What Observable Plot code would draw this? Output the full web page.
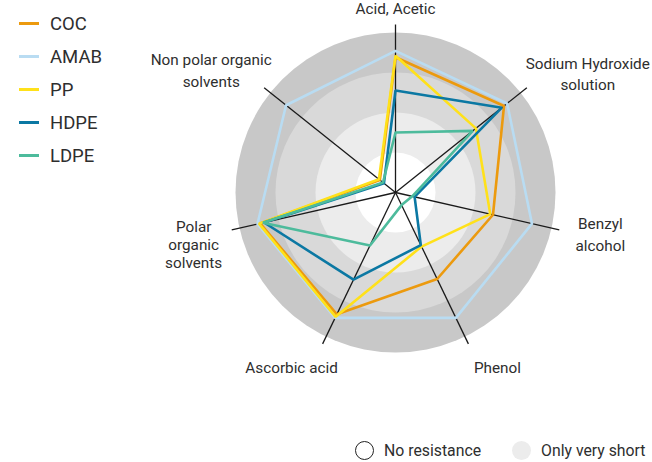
<!DOCTYPE html>
<html>
<head>
<meta charset="utf-8">
<script src="https://cdn.jsdelivr.net/npm/d3@7"></script>
<script src="https://cdn.jsdelivr.net/npm/@observablehq/plot@0.6"></script>
<style>
  html, body { margin: 0; padding: 0; background: #fff; }
  #wrap { position: relative; width: 652px; height: 462px; overflow: hidden; font-family: Roboto, sans-serif; color: #2e2e2e; }
  #chart { position: absolute; left: 0; top: 0; }
  #legend { position: absolute; left: 19px; top: 7px; }
  .li { display: flex; align-items: center; height: 33px; font-size: 18.5px; }
  .sw { width: 20px; height: 3px; margin-right: 11px; }
  #legend2 { position: absolute; top: 441px; left: 355px; display: flex; align-items: center; font-size: 15.8px; }
  .circ { width: 19px; height: 19px; border-radius: 50%; box-sizing: border-box; margin-right: 10px; }
</style>
</head>
<body>
<div id="wrap">
  <div id="chart"></div>
  <div id="legend"></div>
  <div id="legend2"></div>
</div>
<script>
// ---- data ----
const axisLabels = ["Acid, Acetic", "Sodium Hydroxide\nsolution", "Benzyl\nalcohol", "Phenol", "Ascorbic acid", "Polar\norganic\nsolvents", "Non polar organic\nsolvents"];
const seriesNames = ["COC", "AMAB", "PP", "HDPE", "LDPE"];
const seriesColors = ["#ec9a0e", "#b9dcf2", "#ffe11a", "#0b78a3", "#4dbb9c"];
// values per axis, order as axisLabels
const COC  = [3.38, 3.47, 2.50, 2.40, 3.38, 3.47, 0.50];
const AMAB = [3.54, 3.57, 3.50, 3.48, 3.48, 3.54, 3.50];
const PP   = [3.42, 2.57, 2.43, 1.50, 3.45, 3.50, 0.53];
const HDPE = [2.55, 3.40, 0.49, 1.46, 2.42, 3.37, 0.37];
const LDPE = [1.50, 2.47, 0.43, 0.35, 1.47, 3.40, 0.40];
const ringLevels = [4, 3, 2, 1];
const ringColors = ["#c8c8c8", "#d9d9d9", "#ececec", "#ffffff"];
const legendBottom = ["No resistance", "Only very short"];

const seriesValues = {COC, AMAB, PP, HDPE, LDPE};
const drawOrder = ["AMAB", "COC", "PP", "HDPE", "LDPE"];

// ---- geometry helpers (data space, 1 unit = ring step) ----
const n = axisLabels.length;
const ang = i => i * 2 * Math.PI / n;
const axisMax = 4.2;
const labelR = 5.125;
// label nudges (px) and line heights
const labelStyle = [
  {dx: 0, dy: 19.5, lh: 1.35},
  {dx: 32, dy: 8, lh: 1.4},
  {dx: 5, dy: -5, lh: 1.4},
  {dx: 13, dy: -11, lh: 1.35},
  {dx: -15, dy: -11, lh: 1.35},
  {dx: -2, dy: 6, lh: 1.2},
  {dx: -24, dy: 4, lh: 1.45}
];

const W = 652, H = 462, cx = 395, cy = 192, unit = 40;

const marks = [];
ringLevels.forEach((lv, k) => {
  marks.push(Plot.dot([lv], {x: () => 0, y: () => 0, r: d => d, fill: ringColors[k], stroke: "none"}));
});
const axisData = axisLabels.map((l, i) => ({i, x2: axisMax * Math.sin(ang(i)), y2: axisMax * Math.cos(ang(i))}));
marks.push(Plot.link(axisData, {x1: () => 0, y1: () => 0, x2: "x2", y2: "y2", stroke: "#1a1a1a", strokeWidth: 1.3}));
drawOrder.forEach(name => {
  const vals = seriesValues[name];
  const pts = vals.map((v, i) => ({x: v * Math.sin(ang(i)), y: v * Math.cos(ang(i))}));
  marks.push(Plot.line(pts, {x: "x", y: "y", curve: "linear-closed", stroke: seriesColors[seriesNames.indexOf(name)], strokeWidth: 2.6, strokeLinejoin: "miter"}));
});
axisLabels.forEach((l, i) => {
  const s = labelStyle[i];
  marks.push(Plot.text([l], {
    x: () => labelR * Math.sin(ang(i)), y: () => labelR * Math.cos(ang(i)),
    text: d => d, dx: s.dx, dy: s.dy, lineHeight: s.lh,
    fontSize: 15.3, fill: "#2e2e2e", textAnchor: "middle", lineAnchor: "middle"
  }));
});

const plot = Plot.plot({
  width: W, height: H,
  margin: 0,
  x: {domain: [-cx / unit, (W - cx) / unit], axis: null},
  y: {domain: [-(H - cy) / unit, cy / unit], axis: null},
  r: {type: "linear", domain: [0, 4], range: [0, 4 * unit]},
  style: {fontFamily: "Roboto, sans-serif", background: "transparent"},
  marks
});
document.getElementById("chart").appendChild(plot);

// legend
const leg = document.getElementById("legend");
seriesNames.forEach((s, i) => {
  const row = document.createElement("div");
  row.className = "li";
  row.innerHTML = `<span class="sw" style="background:${seriesColors[i]}"></span><span>${s}</span>`;
  leg.appendChild(row);
});
const leg2 = document.getElementById("legend2");
leg2.innerHTML = `<span class="circ" style="border:1.5px solid #222;background:#fff"></span><span style="margin-right:31px">${legendBottom[0]}</span>` +
  `<span class="circ" style="background:#ececec"></span><span>${legendBottom[1]}</span>`;
</script>
</body>
</html>
